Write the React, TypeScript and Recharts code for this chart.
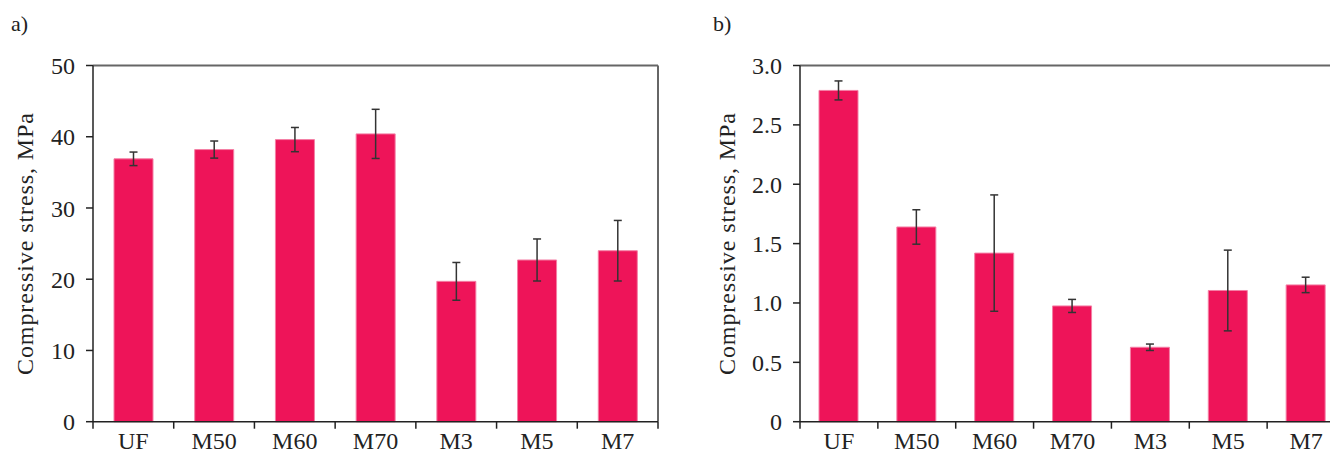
import { BarChart, Bar, XAxis, YAxis, ErrorBar, ReferenceLine } from 'recharts';

const categories = ['UF', 'M50', 'M60', 'M70', 'M3', 'M5', 'M7'];

// a) compressive stress, MPa
const stressA = [36.9, 38.2, 39.6, 40.4, 19.7, 22.7, 24.0];
const errorA = [0.95, 1.2, 1.7, 3.45, 2.65, 2.95, 4.25];
const ticksA = [0, 10, 20, 30, 40, 50];

// b) compressive stress, MPa
const stressB = [2.79, 1.64, 1.42, 0.975, 0.627, 1.105, 1.152];
const errorB = [0.08, 0.145, 0.49, 0.055, 0.027, 0.34, 0.065];
const ticksB = [0, 0.5, 1, 1.5, 2, 2.5, 3];

const FONT = "'Liberation Serif', 'Times New Roman', serif";
const BAR = '#EE1459';
const BAR_EDGE = '#F47FA5';
const AXIS = '#222';
const FRAME = '#666';
const TICK_SIZE = 7;
const TICK_MARGIN = 11;

// category label plus tick marks on the category boundaries (excel style)
function CategoryTick(props: any) {
  const { x, y, payload, index, visibleTicksCount } = props;
  const half = payload.offset || 0;
  const axisY = y - TICK_SIZE - TICK_MARGIN;
  const last = index === visibleTicksCount - 1;
  return (
    <g>
      <line x1={x - half} x2={x - half} y1={axisY} y2={axisY + TICK_SIZE} stroke={AXIS} strokeWidth={1.5} />
      {last && <line x1={x + half} x2={x + half} y1={axisY} y2={axisY + TICK_SIZE} stroke={AXIS} strokeWidth={1.5} />}
      <text x={x} y={axisY + 27} textAnchor="middle" fill={AXIS} fontSize={24} fontFamily={FONT}>
        {payload.value}
      </text>
    </g>
  );
}

interface PanelProps {
  tag: string;
  values: number[];
  errors: number[];
  ticks: number[];
  format: (v: number) => string;
  left: number;
  width: number;
  axisWidth: number;
  labelX: number;
}

function Panel({ tag, values, errors, ticks, format, left, width, axisWidth, labelX }: PanelProps) {
  const data = categories.map((name, i) => ({ name, value: values[i], err: errors[i] }));
  const yMax = ticks[ticks.length - 1];

  return (
    <div style={{ position: 'absolute', left, top: 0, width, height: 459 }}>
      <BarChart
        width={width}
        height={459}
        data={data}
        barSize={39}
        margin={{ top: 65.5, right: 22, bottom: 0, left: 0 }}
      >
        <XAxis
          dataKey="name"
          height={37.3}
          interval={0}
          tickLine={false}
          tickSize={TICK_SIZE}
          tickMargin={TICK_MARGIN}
          tick={<CategoryTick />}
          axisLine={{ stroke: AXIS, strokeWidth: 1.5 }}
        />
        <YAxis
          domain={[0, yMax]}
          ticks={ticks}
          width={axisWidth}
          tickSize={TICK_SIZE}
          tickMargin={TICK_MARGIN}
          tickFormatter={format}
          tick={{ fill: AXIS, fontSize: 24, fontFamily: FONT }}
          axisLine={{ stroke: AXIS, strokeWidth: 1.5 }}
          tickLine={{ stroke: AXIS, strokeWidth: 1.5 }}
          label={{
            content: (props: any) => {
              const vb = props.viewBox;
              const cx = vb.x + labelX;
              const cy = vb.y + vb.height / 2;
              return (
                <text
                  x={cx}
                  y={cy}
                  transform={`rotate(-90 ${cx} ${cy})`}
                  textAnchor="middle"
                  fill={AXIS}
                  fontSize={24}
                  fontFamily={FONT}
                  letterSpacing={0.9}
                >
                  Compressive stress, MPa
                </text>
              );
            },
          }}
        />
        <ReferenceLine y={yMax} stroke={FRAME} strokeWidth={2} />
        <ReferenceLine x={categories[categories.length - 1]} position="end" stroke={FRAME} strokeWidth={2} />
        <Bar dataKey="value" fill={BAR} stroke={BAR_EDGE} strokeWidth={1} isAnimationActive={false}>
          <ErrorBar dataKey="err" width={4} stroke="#333" strokeWidth={1.5} isAnimationActive={false} />
        </Bar>
      </BarChart>
      <div
        style={{
          position: 'absolute',
          left: labelX - 22,
          top: 12.6,
          fontFamily: FONT,
          fontSize: 22,
          lineHeight: '22px',
          color: AXIS,
        }}
      >
        {tag}
      </div>
    </div>
  );
}

export default function App() {
  return (
    <div style={{ position: 'relative', width: 1338, height: 459, margin: -8, overflow: 'hidden', background: '#fff' }}>
      <Panel
        tag="a)"
        values={stressA}
        errors={errorA}
        ticks={ticksA}
        format={(v) => String(v)}
        left={0}
        width={680}
        axisWidth={93}
        labelX={33}
      />
      <Panel
        tag="b)"
        values={stressB}
        errors={errorB}
        ticks={ticksB}
        format={(v) => (v === 0 ? '0' : v.toFixed(1))}
        left={680}
        width={687}
        axisWidth={120}
        labelX={55}
      />
    </div>
  );
}
